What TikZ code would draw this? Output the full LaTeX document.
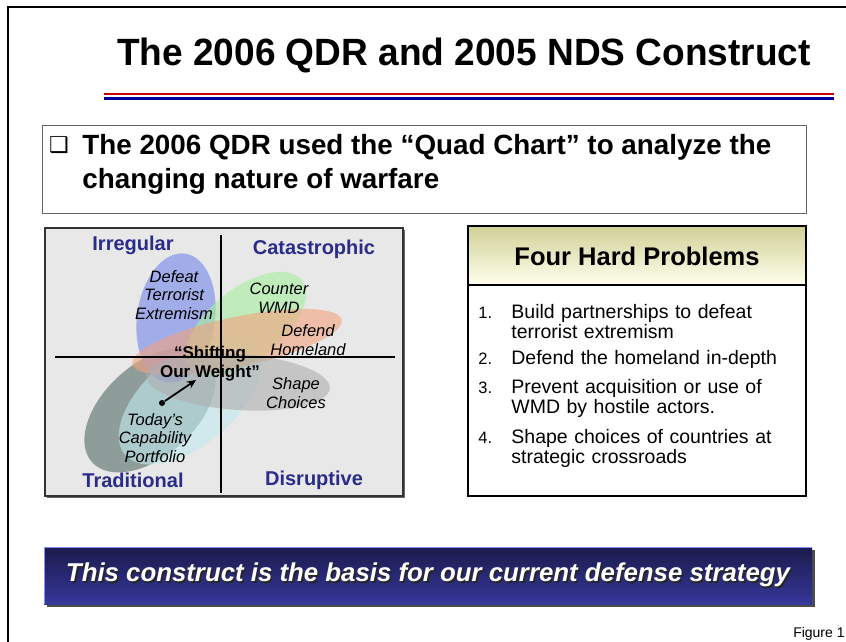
\documentclass[tikz,border=0pt]{standalone}
\usepackage{fontspec}
\setmainfont{Liberation Sans}
\newfontfamily\dingfont{DejaVu Sans}
\usetikzlibrary{positioning,arrows.meta}
\definecolor{quadnavy}{HTML}{2A2C8A}
\definecolor{bannertop}{HTML}{1B1B4C}
\definecolor{bannerbot}{HTML}{36379B}
\definecolor{headtop}{HTML}{D0D096}
\definecolor{headbot}{HTML}{FFFFEE}
\definecolor{rulered}{HTML}{CC0000}
\definecolor{ruleblue}{HTML}{000099}
\definecolor{blobblue}{HTML}{8A9AE8}
\definecolor{blobgreen}{HTML}{A6EE9E}
\definecolor{blobred}{HTML}{F2A27E}
\definecolor{blobgray}{HTML}{AEAEAE}
\definecolor{blobcyan}{HTML}{C2EAF0}
\definecolor{blobdark}{HTML}{71857F}
\newcommand{\shadowtext}[1]{{\color{black!85}\rlap{\hspace{1.6pt}\raisebox{-1.6pt}{#1}}}#1}
\tikzset{
    quad label/.style={font=\fontsize{20}{22}\selectfont\bfseries, text=quadnavy, inner sep=0pt},
    blob text/.style={font=\fontsize{16.5}{18.5}\selectfont\itshape, align=center, inner sep=0pt},
    problem/.style={font=\fontsize{19.5}{19.8}\selectfont, text width=290pt, align=left, inner sep=0pt, anchor=north west},
    num/.style={font=\fontsize{16.5}{19}\selectfont, inner sep=0pt, anchor=base west},
}

\begin{document}
\begin{tikzpicture}[x=1pt,y=-1pt,>={Stealth[length=9pt,width=8pt]},thick,
    blob/.style={opacity=0.6},
    dot/.style={circle,fill=black,inner sep=0pt,minimum size=6pt}]
        \useasboundingbox (0,0) rectangle (846,642);
        \fill[white] (0,0) rectangle (846,642);
        \draw[line width=2pt] (7.5,642) -- (7.5,7.5) -- (846,7.5);

        % title
        \node[font=\fontsize{38}{40}\selectfont\bfseries, inner sep=0pt] (title) at (464,55) {\scalebox{0.975}[1]{The 2006 QDR and 2005 NDS Construct}};
        \draw[rulered, line width=2.2pt] (104,94) -- (834,94);
        \draw[ruleblue, line width=3pt] (104,98.8) -- (834,98.8);

        % bullet box
        \draw[black!60, line width=1pt] (42,125) rectangle (806,213);
        \node[font=\dingfont\fontsize{22}{22}\selectfont, inner sep=0pt] (tick) at (59,145) {❑};
        \node[font=\fontsize{27.8}{34}\selectfont\bfseries, align=left, inner sep=0pt, anchor=north west] (quadtext) at (82,134)
            {The 2006 QDR used the “Quad Chart” to analyze the\\changing nature of warfare};

        % quad chart
        \fill[black!60] (47,230) rectangle (405,498);
        \draw[fill=black!9, draw=black!80, line width=2.5pt] (45,228) rectangle (403,496);
        \fill[blobdark, opacity=0.75, shift={(150,410)}, rotate=42] (0,0) ellipse [x radius=78, y radius=46];
        \fill[blobcyan, blob, shift={(190,400)}, rotate=40] (0,0) ellipse [x radius=85, y radius=45];
        \fill[blobblue, opacity=0.75, shift={(176,318)}, rotate=-8] (0,0) ellipse [x radius=39, y radius=65];
        \fill[blobgreen, blob, shift={(246,324)}, rotate=38] (0,0) ellipse [x radius=71, y radius=36];
        \fill[blobred, blob, shift={(237,342)}, rotate=12] (0,0) ellipse [x radius=107, y radius=25];
        \fill[blobgray, blob, shift={(238,382)}, rotate=-4] (0,0) ellipse [x radius=92, y radius=28];
        \coordinate (vtop) at (221,235);
        \coordinate (vbot) at (221,493);
        \coordinate (hleft) at (55,357);
        \coordinate (hright) at (395,357);
        \draw[line width=1.6pt] (vtop) -- (vbot) (hleft) -- (hright);

        \node[quad label] (irr) at (133,245) {Irregular};
        \node[quad label] (cat) at (314,249) {Catastrophic};
        \node[quad label] (trad) at (133,480) {Traditional};
        \node[quad label] (dis) at (314,480) {Disruptive};

        \node[blob text] (defeat) at (174,295) {Defeat\\Terrorist\\Extremism};
        \node[blob text] (wmd) at (279,298) {Counter\\WMD};
        \node[blob text] (homeland) at (308,340) {Defend\\Homeland};
        \node[blob text] (shape) at (296,393) {Shape\\Choices};
        \node[blob text] (today) at (155,438) {Today's\\Capability\\Portfolio};
        \node[blob text, font=\fontsize{17}{19}\selectfont\bfseries] (shift) at (210,364) {“Shifting\\Our Weight”};
        \node[dot] (now) at (162,403) {};
        \coordinate (target) at (196,380);

        \path[line width=1.8pt]
            (now) edge[->] (target)
            ;

        % four hard problems
        \shade[top color=headtop, bottom color=headbot] (468,226) rectangle (806,285);
        \draw[line width=2pt] (468,226) rectangle (806,496);
        \draw[line width=1.2pt] (468,285) -- (806,285);
        \node[font=\fontsize{25.5}{27}\selectfont\bfseries] (hard) at (637,256) {Four Hard Problems};

        \node[num] (n1) at (478,318) {1.};
        \node[problem] (p1) at (511,304) {Build partnerships to defeat\\terrorist extremism};
        \node[num] (n2) at (478,364) {2.};
        \node[problem] (p2) at (511,350) {Defend the homeland in-depth};
        \node[num] (n3) at (478,393) {3.};
        \node[problem] (p3) at (511,379) {Prevent acquisition or use of\\WMD by hostile actors.};
        \node[num] (n4) at (478,443) {4.};
        \node[problem] (p4) at (511,429) {Shape choices of countries at\\strategic crossroads};

        % banner
        \fill[black!70] (47,550) rectangle (815,607);
        \shade[top color=bannertop, bottom color=bannerbot] (44,547) rectangle (812,604);
        \draw[blue!45!white, line width=0.8pt] (44,604) -- (44,547) -- (812,547);
        \node[font=\fontsize{25.8}{28}\selectfont\bfseries\itshape, text=white] (basis) at (428,576)
            {\shadowtext{This construct is the basis for our current defense strategy}};

        \node[font=\fontsize{14}{16}\selectfont, inner sep=0pt, anchor=base east] (fig) at (845,637) {Figure 1};
\end{tikzpicture}
\end{document}
